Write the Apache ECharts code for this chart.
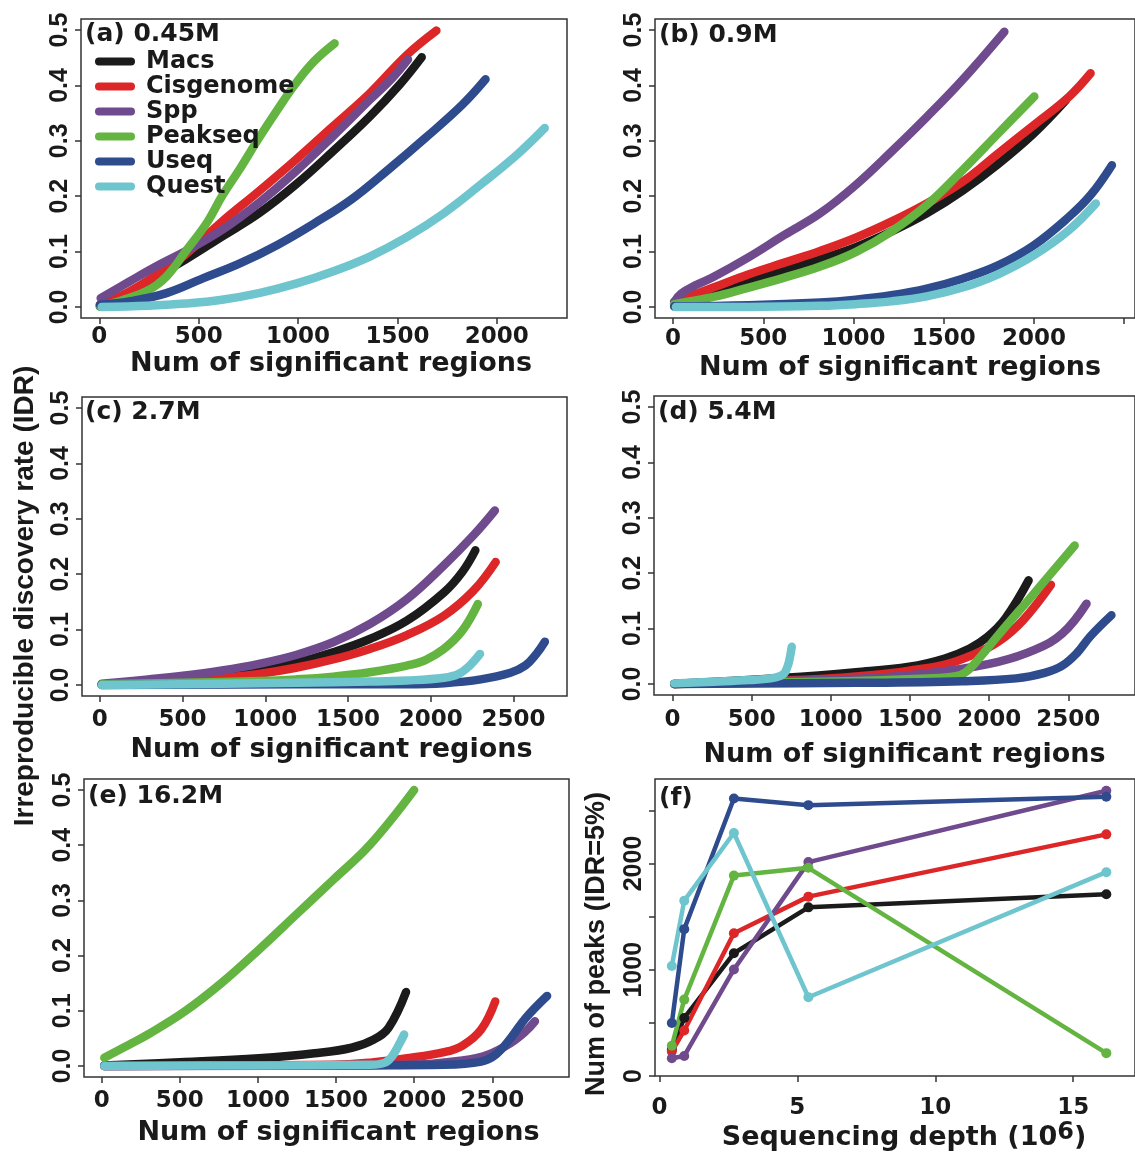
<!DOCTYPE html>
<html><head><meta charset="utf-8">
<script src="https://cdn.jsdelivr.net/npm/echarts@6/dist/echarts.min.js"></script>
<style>html,body{margin:0;padding:0;background:#fff;overflow:hidden}#c{width:1135px;height:1157px}</style>
</head><body><div id="c"></div><script>
// ---------- data ----------
const methods = ['Macs', 'Cisgenome', 'Spp', 'Peakseq', 'Useq', 'Quest'];
const panelLabels = ['(a) 0.45M', '(b) 0.9M', '(c) 2.7M', '(d) 5.4M', '(e) 16.2M', '(f)'];
const yTicks = [0, 0.1, 0.2, 0.3, 0.4, 0.5];

// (a) 0.45M
const a_macs = [[3,.001],[152,.025],[301,.058],[431,.085],[617,.127],[803,.169],[989,.221],[1175,.281],[1361,.344],[1510,.401],[1622,.451]];
const a_cisgenome = [[3,.004],[152,.028],[301,.061],[431,.094],[617,.154],[803,.209],[989,.266],[1175,.326],[1361,.386],[1547,.455],[1696,.499]];
const a_spp = [[7,.016],[152,.046],[301,.076],[431,.100],[617,.139],[803,.188],[989,.245],[1175,.308],[1361,.374],[1473,.413],[1553,.447]];
const a_peakseq = [[3,.001],[115,.012],[245,.030],[338,.055],[440,.103],[543,.153],[617,.200],[710,.251],[803,.305],[896,.356],[989,.404],[1082,.444],[1184,.476]];
const a_useq = [[3,.004],[152,.010],[338,.025],[524,.052],[710,.079],[896,.112],[1082,.151],[1268,.194],[1454,.248],[1640,.305],[1826,.365],[1943,.411]];
const a_quest = [[12,0],[245,.002],[431,.006],[617,.013],[803,.025],[989,.042],[1175,.064],[1361,.091],[1547,.126],[1733,.169],[1919,.221],[2105,.276],[2241,.323]];

// (b) 0.9M
const b_macs = [[6,.006],[223,.029],[420,.048],[617,.065],[815,.086],[1012,.108],[1209,.136],[1406,.169],[1604,.210],[1801,.258],[1998,.313],[2176,.373]];
const b_cisgenome = [[6,.009],[223,.035],[420,.059],[617,.080],[815,.101],[1012,.125],[1209,.154],[1406,.187],[1604,.226],[1801,.277],[1998,.328],[2195,.380],[2314,.422]];
const b_spp = [[6,.009],[45,.024],[124,.039],[223,.054],[420,.090],[617,.130],[815,.169],[1012,.220],[1209,.280],[1406,.343],[1604,.410],[1836,.497]];
const b_peakseq = [[6,.005],[223,.018],[420,.035],[617,.053],[815,.073],[1012,.099],[1209,.136],[1406,.184],[1604,.247],[1801,.313],[2002,.380]];
const b_useq = [[6,.001],[420,.003],[815,.008],[1012,.013],[1209,.021],[1406,.033],[1604,.051],[1801,.075],[1998,.111],[2195,.163],[2314,.202],[2432,.256]];
const b_quest = [[16,0],[420,0],[815,.002],[1012,.005],[1209,.010],[1406,.019],[1604,.035],[1801,.059],[1998,.093],[2195,.139],[2343,.187]];

// (c) 2.7M
const c_macs = [[11,.001],[514,.010],[738,.016],[962,.026],[1185,.040],[1409,.059],[1632,.083],[1856,.116],[2080,.167],[2191,.204],[2270,.243]];
const c_cisgenome = [[11,.001],[514,.007],[738,.013],[962,.020],[1185,.031],[1409,.046],[1632,.065],[1856,.090],[2080,.125],[2258,.170],[2393,.222]];
const c_spp = [[11,.002],[291,.010],[514,.017],[738,.026],[962,.038],[1185,.054],[1409,.077],[1632,.110],[1856,.155],[2080,.216],[2258,.270],[2388,.315]];
const c_peakseq = [[11,.001],[514,.004],[962,.007],[1185,.010],[1409,.015],[1632,.023],[1856,.035],[1968,.045],[2080,.065],[2191,.098],[2285,.146]];
const c_useq = [[11,0],[1185,.001],[1856,.001],[2080,.003],[2303,.010],[2482,.022],[2572,.035],[2639,.056],[2690,.078]];
const c_quest = [[11,0],[738,.002],[1185,.004],[1632,.006],[1856,.008],[2080,.013],[2169,.020],[2236,.035],[2298,.056]];

// (d) 5.4M
const d_macs = [[11,0],[708,.011],[1158,.021],[1495,.031],[1720,.046],[1877,.064],[1990,.085],[2102,.118],[2249,.187]];
const d_cisgenome = [[11,0],[933,.009],[1270,.016],[1495,.024],[1720,.035],[1900,.053],[2057,.076],[2214,.115],[2390,.179]];
const d_spp = [[11,0],[933,.007],[1383,.013],[1720,.023],[2057,.040],[2282,.061],[2462,.091],[2615,.145]];
const d_peakseq = [[11,0],[933,.004],[1607,.010],[1787,.014],[1855,.022],[1945,.049],[2057,.088],[2282,.163],[2540,.250]];
const d_useq = [[11,0],[1158,.002],[1832,.005],[2170,.010],[2350,.020],[2462,.033],[2552,.055],[2642,.087],[2772,.124]];
const d_quest = [[11,.001],[259,.004],[483,.007],[618,.010],[697,.017],[726,.031],[742,.049],[753,.067]];

// (e) 16.2M
const e_macs = [[17,.001],[533,.007],[1007,.014],[1363,.023],[1600,.033],[1742,.048],[1836,.069],[1948,.134]];
const e_cisgenome = [[17,0],[1481,.002],[1718,.006],[1955,.014],[2192,.025],[2310,.037],[2429,.066],[2519,.117]];
const e_spp = [[17,0],[1955,.002],[2310,.010],[2476,.021],[2619,.042],[2714,.063],[2773,.081]];
const e_peakseq = [[17,.015],[178,.039],[296,.057],[533,.099],[770,.151],[1007,.211],[1244,.274],[1481,.337],[1718,.401],[2000,.500]];
const e_useq = [[17,0],[1718,.001],[2192,.002],[2429,.008],[2524,.021],[2619,.051],[2714,.087],[2851,.127]];
const e_quest = [[17,0],[1007,.001],[1718,.002],[1813,.006],[1860,.018],[1903,.039],[1936,.057]];

// (f) number of peaks at IDR = 5% vs sequencing depth
const f_depth = [0.45, 0.9, 2.7, 5.4, 16.2];
const f_macs = [250, 546, 1155, 1587, 1710];
const f_cisgenome = [230, 429, 1344, 1688, 2274];
const f_spp = [167, 189, 1003, 2013, 2685];
const f_peakseq = [284, 719, 1886, 1959, 215];
const f_useq = [498, 1382, 2612, 2549, 2628];
const f_quest = [1035, 1650, 2287, 741, 1918];
const f_yTicks = [0, 500, 1000, 1500, 2000, 2500];
const f_yLabels = [0, 1000, 2000];
const f_xTicks = [0, 5, 10, 15];

// ---------- styles / layout ----------
const colors = ['#1b1b1b', '#dc2627', '#6f4a8d', '#64b442', '#2e4b8d', '#6fc5ce'];
const HFONT = '"DejaVu Sans", sans-serif';
const VFONT = '"Liberation Sans", Arial, sans-serif';
const curves = [
  [a_macs, a_cisgenome, a_spp, a_peakseq, a_useq, a_quest],
  [b_macs, b_cisgenome, b_spp, b_peakseq, b_useq, b_quest],
  [c_macs, c_cisgenome, c_spp, c_peakseq, c_useq, c_quest],
  [d_macs, d_cisgenome, d_spp, d_peakseq, d_useq, d_quest],
  [e_macs, e_cisgenome, e_spp, e_peakseq, e_useq, e_quest]
];
const fCounts = [f_macs, f_cisgenome, f_spp, f_peakseq, f_useq, f_quest];

const layout = [
  {grid:{left:81, top:19, width:486, height:299}, x:[-92,2353], xt:[0,500,1000,1500,2000], xl:[0,500,1000,1500,2000], lm:8, ng:32, np:14, lab:[85,37]},
  {grid:{left:655, top:19, width:486, height:299}, x:[-100,2560], xt:[0,500,1000,1500,2000,2500], xl:[0,500,1000,1500,2000], lm:10, ng:36, np:10, lab:[659,38]},
  {grid:{left:82, top:397, width:485, height:299}, x:[-108,2824], xt:[0,500,1000,1500,2000,2500], xl:[0,500,1000,1500,2000,2500], lm:13, ng:40, np:14, lab:[85,415]},
  {grid:{left:654, top:396, width:487, height:299}, x:[-117,2921], xt:[0,500,1000,1500,2000,2500], xl:[0,500,1000,1500,2000,2500], lm:14, ng:46, np:20, lab:[658,415]},
  {grid:{left:84, top:779, width:485, height:298}, x:[-113,2991], xt:[0,500,1000,1500,2000,2500], xl:[0,500,1000,1500,2000,2500], lm:13, ng:42, np:24, lab:[88,799]},
  {grid:{left:655, top:779, width:486, height:297}, x:[-0.16,17.24], xt:f_xTicks, xl:f_xTicks, lm:21, ng:43, np:18, lab:[659,801]}
];

const axisColor = '#333';
const grids = [], xAxes = [], yAxes = [], series = [], graphics = [];
layout.forEach((L, k) => {
  grids.push(Object.assign({show:true, borderColor:axisColor, borderWidth:1.5, backgroundColor:'transparent', containLabel:false}, L.grid));
  const isF = k === 5;
  xAxes.push({
    type:'value', gridIndex:k, min:L.x[0], max:L.x[1], position:'bottom',
    axisLine:{show:false, onZero:false}, splitLine:{show:false},
    axisTick:{show:true, inside:false, length:6, customValues:L.xt, lineStyle:{color:axisColor, width:1.5}},
    axisLabel:{show:true, customValues:L.xl, margin:L.lm, formatter:v => String(v),
      fontFamily:HFONT, fontWeight:'bold', fontSize:23, color:'#1a1a1a'},
    name: isF ? 'Sequencing depth (10{sup|6})' : 'Num of significant regions',
    nameLocation:'middle', nameGap:L.ng,
    nameTextStyle:{fontFamily:HFONT, fontWeight:'bold', fontSize:27, color:'#1a1a1a', padding:[0,0,0,L.np],
      rich:{sup:{fontFamily:HFONT, fontWeight:'bold', fontSize:24, color:'#1a1a1a', verticalAlign:'top', padding:[0,0,10,0]}}}
  });
  yAxes.push({
    type:'value', gridIndex:k, position:'left',
    min: isF ? 0 : -0.02, max: isF ? 2795 : 0.52,
    axisLine:{show:false, onZero:false}, splitLine:{show:false},
    axisTick:{show:true, inside:false, length:6, customValues: isF ? f_yTicks : yTicks, lineStyle:{color:axisColor, width:1.5}},
    axisLabel:{show:true, customValues: isF ? f_yLabels : yTicks, rotate:90, margin:8,
      formatter: isF ? (v => String(Math.round(v))) : (v => v.toFixed(1)),
      fontFamily:VFONT, fontWeight:'bold', fontSize:25, color:'#1a1a1a'}
  });
  graphics.push({type:'text', left:L.lab[0], top:L.lab[1]-15, z:100,
    style:{text:panelLabels[k], font:'bold 25px ' + HFONT, fill:'#1a1a1a'}});
});

curves.forEach((panel, k) => {
  panel.forEach((data, i) => {
    series.push({
      type:'line', name:methods[i], xAxisIndex:k, yAxisIndex:k, data:data,
      showSymbol:false, smooth:0.4, silent:true,
      lineStyle:{width:8.5, color:colors[i], cap:'round', join:'round'},
      itemStyle:{color:colors[i]}
    });
  });
});
fCounts.forEach((counts, i) => {
  series.push({
    type:'line', name:methods[i], xAxisIndex:5, yAxisIndex:5,
    data: f_depth.map((d, j) => [d, counts[j]]),
    symbol:'circle', symbolSize:10, showSymbol:true, silent:true,
    lineStyle:{width:4.5, color:colors[i], cap:'round', join:'round'},
    itemStyle:{color:colors[i]}
  });
});

// rotated axis titles
graphics.push({type:'text', x:25, y:596, rotation:Math.PI/2, z:100,
  style:{text:'Irreproducible discovery rate (IDR)', font:'bold 28px ' + VFONT, fill:'#1a1a1a', align:'center', verticalAlign:'middle'}});
graphics.push({type:'text', x:597, y:944, rotation:Math.PI/2, z:100,
  style:{text:'Num of peaks (IDR=5%)', font:'bold 27px ' + VFONT, fill:'#1a1a1a', align:'center', verticalAlign:'middle'}});

const chart = echarts.init(document.getElementById('c'), null, {renderer:'canvas'});
chart.setOption({
  animation:false,
  backgroundColor:'#ffffff',
  grid:grids, xAxis:xAxes, yAxis:yAxes, series:series,
  legend:{
    show:true, orient:'vertical', left:90, top:44, itemGap:0, selectedMode:false,
    itemWidth:40, itemHeight:8,
    icon:'path://M4,0 L36,0 A4,4 0 0 1 36,8 L4,8 A4,4 0 0 1 4,0 Z',
    data:methods,
    textStyle:{fontFamily:HFONT, fontWeight:'bold', fontSize:24, color:'#1a1a1a', lineHeight:25, padding:[0,0,0,6]}
  },
  graphic:graphics
});
</script></body></html>
